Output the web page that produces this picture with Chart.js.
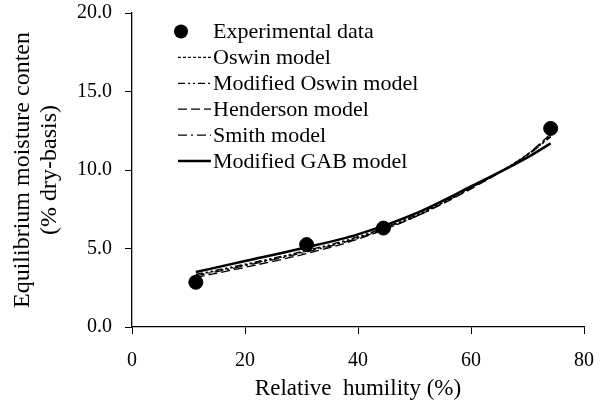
<!DOCTYPE html>
<html>
<head>
<meta charset="utf-8">
<script src="https://cdn.jsdelivr.net/npm/chart.js@4.4.1/dist/chart.umd.min.js"></script>
<style>
  html, body { margin: 0; padding: 0; background: #fff; }
  canvas { display: block; }
</style>
</head>
<body>
<canvas id="c" width="602" height="403"></canvas>
<script>
// experimental points
const expRH = [11.3, 30.9, 44.5, 74.1];
const expEMC = [2.85, 5.25, 6.3, 12.65];

// model curves
const modelRH = [11.3, 20, 30, 40, 50, 60, 70, 74.1];
const oswin = [3.3, 3.95, 4.75, 5.7, 7.05, 8.85, 11.0, 12.2];
const modOswin = [3.35, 4.0, 4.8, 5.75, 7.1, 8.9, 10.95, 12.15];
const henderson = [3.15, 3.8, 4.6, 5.6, 7.0, 8.8, 11.0, 12.3];
const smith = [3.25, 3.9, 4.7, 5.65, 7.0, 8.85, 10.95, 12.1];
const gab = [3.5, 4.2, 5.0, 5.9, 7.2, 8.95, 10.8, 11.7];

const xTicks = [0, 20, 40, 60, 80];
const yTicks = [0, 5, 10, 15, 20];

const FONT = "'Liberation Serif', 'Times New Roman', serif";

function pts(xs, ys) {
  return xs.map((x, i) => ({ x: x, y: ys[i] }));
}

function model(label, ys, dash, width) {
  return {
    label: label,
    data: pts(modelRH, ys),
    showLine: true,
    borderColor: '#000',
    borderWidth: width,
    borderDash: dash,
    pointRadius: 0,
    cubicInterpolationMode: 'monotone',
    fill: false
  };
}

const datasets = [
  {
    label: 'Experimental data',
    data: pts(expRH, expEMC),
    backgroundColor: '#000',
    borderColor: '#000',
    pointRadius: 7,
    showLine: false,
    order: 0
  },
  model('Oswin model', oswin, [3, 2], 1.3),
  model('Modified Oswin model', modOswin, [7, 3, 2, 3, 2, 3], 1.3),
  model('Henderson model', henderson, [9, 4], 1.3),
  model('Smith model', smith, [9, 4, 2, 4], 1.3),
  model('Modified GAB model', gab, [], 2.5)
];

// legend drawn inside the plot, one row per dataset
const legendPlugin = {
  id: 'boxLegend',
  afterDraw(chart) {
    const ctx = chart.ctx;
    const x0 = 178, x1 = 211, tx = 213, y0 = 31.5, dy = 25.9;
    ctx.save();
    ctx.font = '22px ' + FONT;
    ctx.textBaseline = 'middle';
    ctx.fillStyle = '#000';
    chart.data.datasets.forEach((ds, i) => {
      const y = y0 + i * dy;
      if (ds.showLine) {
        ctx.beginPath();
        ctx.setLineDash(ds.borderDash);
        ctx.lineWidth = ds.borderWidth;
        ctx.strokeStyle = ds.borderColor;
        ctx.moveTo(x0, y);
        ctx.lineTo(x1, y);
        ctx.stroke();
      } else {
        ctx.beginPath();
        ctx.arc(181, y, ds.pointRadius, 0, Math.PI * 2);
        ctx.fill();
      }
      ctx.setLineDash([]);
      ctx.fillText(ds.label, tx, y + 1);
    });
    ctx.restore();
  }
};

new Chart(document.getElementById('c'), {
  type: 'scatter',
  data: { datasets: datasets },
  options: {
    responsive: false,
    animation: false,
    layout: { padding: { left: 0, right: 18, top: 13, bottom: 0 } },
    plugins: {
      legend: { display: false },
      tooltip: { enabled: false }
    },
    scales: {
      x: {
        type: 'linear',
        min: 0,
        max: 80,
        afterBuildTicks(s) { s.ticks = xTicks.map(v => ({ value: v })); },
        afterFit(s) { s.height = 76; s.paddingLeft = 0; s.paddingRight = 0; },
        grid: { drawOnChartArea: false, drawTicks: true, tickLength: 7, color: '#000' },
        border: { color: '#000', width: 1.3 },
        ticks: { color: '#000', font: { family: FONT, size: 20 }, padding: 15 },
        title: {
          display: true,
          text: 'Relative  humility (%)',
          color: '#000',
          font: { family: FONT, size: 23 },
          padding: { top: 0, bottom: 0 }
        }
      },
      y: {
        type: 'linear',
        min: 0,
        max: 20,
        afterBuildTicks(s) { s.ticks = yTicks.map(v => ({ value: v })); },
        afterFit(s) { s.width = 132; s.paddingTop = 0; s.paddingBottom = 0; },
        grid: { drawOnChartArea: false, drawTicks: true, tickLength: 7, color: '#000' },
        border: { color: '#000', width: 1.3 },
        ticks: {
          color: '#000',
          font: { family: FONT, size: 20 },
          padding: 13,
          callback: v => v.toFixed(1)
        },
        title: {
          display: true,
          text: ['Equilibrium moisture conten', '(% dry-basis)'],
          color: '#000',
          font: { family: FONT, size: 24, lineHeight: 1.12 },
          padding: { top: 9, bottom: 0 }
        }
      }
    }
  },
  plugins: [legendPlugin]
});
</script>
</body>
</html>
